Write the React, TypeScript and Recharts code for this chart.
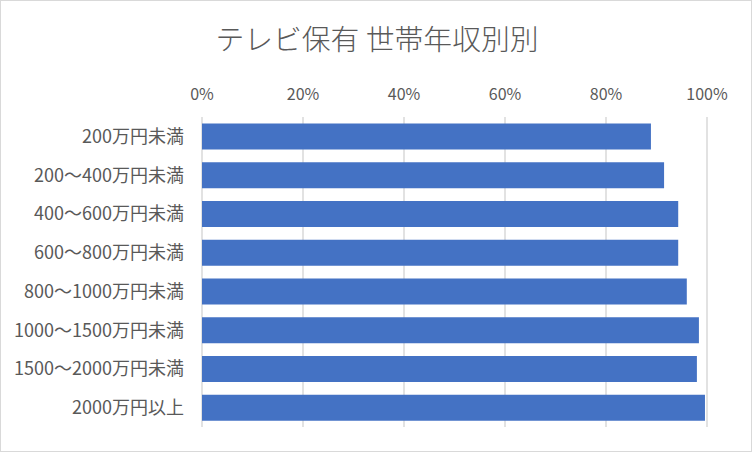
import React from 'react';
import { BarChart, Bar, XAxis, YAxis, CartesianGrid } from 'recharts';

const categories = [
  '200万円未満',
  '200～400万円未満',
  '400～600万円未満',
  '600～800万円未満',
  '800～1000万円未満',
  '1000～1500万円未満',
  '1500～2000万円未満',
  '2000万円以上',
];
const ownershipRate = [0.889, 0.915, 0.943, 0.943, 0.96, 0.984, 0.98, 0.996];
const xTicks = [0, 0.2, 0.4, 0.6, 0.8, 1.0];
const title = 'テレビ保有 世帯年収別別';

const data = categories.map((c, i) => ({ name: c, value: ownershipRate[i] }));

const FONT = '"Noto Sans CJK JP", "Noto Sans", sans-serif';
const TEXT = '#595959';

export default function App() {
  return (
    <div
      style={{
        position: 'fixed',
        left: 0,
        top: 0,
        width: 752,
        height: 452,
        boxSizing: 'border-box',
        border: '1px solid #d9d9d9',
        background: '#fff',
        fontFamily: FONT,
      }}
    >
      <div
        style={{
          position: 'absolute',
          left: 0,
          top: 17,
          width: 752,
          textAlign: 'center',
          fontSize: 28.8,
          color: TEXT,
          fontWeight: 300,
          lineHeight: '40px',
        }}
      >
        {title}
      </div>
      <div style={{ position: 'absolute', left: -1, top: -1 }}>
        <BarChart
          width={752}
          height={452}
          data={data}
          layout="vertical"
          margin={{ top: 77, right: 45, bottom: 25, left: 0 }}
          barCategoryGap="16.5%"
        >
          <CartesianGrid horizontal={false} stroke="#d9d9d9" strokeWidth={1.5} />
          <XAxis
            type="number"
            orientation="top"
            domain={[0, 1]}
            ticks={xTicks}
            height={40}
            axisLine={false}
            tickLine={false}
            tickSize={0}
            tickMargin={17}
            tickFormatter={(v: number) => `${Math.round(v * 100)}%`}
            tick={{ fill: TEXT, fontSize: 16, fontFamily: FONT }}
          />
          <YAxis
            type="category"
            dataKey="name"
            width={202}
            axisLine={false}
            tickLine={false}
            tickSize={0}
            tickMargin={18}
            interval={0}
            tick={{ fill: TEXT, fontSize: 18, fontFamily: FONT }}
          />
          <Bar dataKey="value" fill="#4472C4" isAnimationActive={false} />
        </BarChart>
      </div>
    </div>
  );
}
